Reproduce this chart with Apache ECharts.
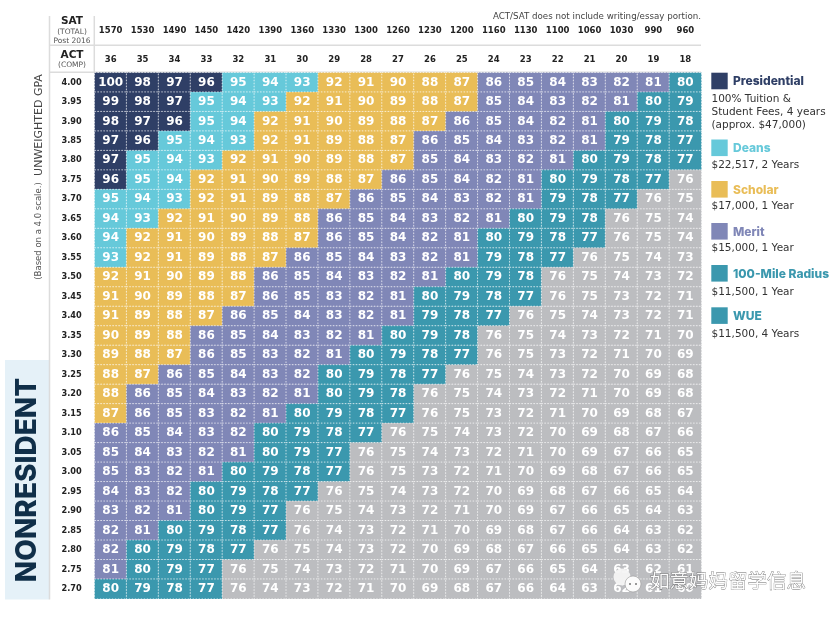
<!DOCTYPE html>
<html>
<head>
<meta charset="utf-8">
<style>html,body{margin:0;padding:0;background:#fff}#chart{width:836px;height:617px}</style>
<script src="https://cdn.jsdelivr.net/npm/echarts@6/dist/echarts.min.js"></script>
</head>
<body>
<div id="chart"></div>
<script>
const satScores = ['1570','1530','1490','1450','1420','1390','1360','1330','1300','1260','1230','1200','1160','1130','1100','1060','1030','990','960'];
const actScores = ['36','35','34','33','32','31','30','29','28','27','26','25','24','23','22','21','20','19','18'];
const gpaLabels = ['4.00','3.95','3.90','3.85','3.80','3.75','3.70','3.65','3.60','3.55','3.50','3.45','3.40','3.35','3.30','3.25','3.20','3.15','3.10','3.05','3.00','2.95','2.90','2.85','2.80','2.75','2.70'];

// index score per GPA row, one value per ACT column
const gpaRows = [
  [100,98,97,96,95,94,93,92,91,90,88,87,86,85,84,83,82,81,80],
  [99,98,97,95,94,93,92,91,90,89,88,87,85,84,83,82,81,80,79],
  [98,97,96,95,94,92,91,90,89,88,87,86,85,84,82,81,80,79,78],
  [97,96,95,94,93,92,91,89,88,87,86,85,84,83,82,81,79,78,77],
  [97,95,94,93,92,91,90,89,88,87,85,84,83,82,81,80,79,78,77],
  [96,95,94,92,91,90,89,88,87,86,85,84,82,81,80,79,78,77,76],
  [95,94,93,92,91,89,88,87,86,85,84,83,82,81,79,78,77,76,75],
  [94,93,92,91,90,89,88,86,85,84,83,82,81,80,79,78,76,75,74],
  [94,92,91,90,89,88,87,86,85,84,82,81,80,79,78,77,76,75,74],
  [93,92,91,89,88,87,86,85,84,83,82,81,79,78,77,76,75,74,73],
  [92,91,90,89,88,86,85,84,83,82,81,80,79,78,76,75,74,73,72],
  [91,90,89,88,87,86,85,83,82,81,80,79,78,77,76,75,73,72,71],
  [91,89,88,87,86,85,84,83,82,81,79,78,77,76,75,74,73,72,71],
  [90,89,88,86,85,84,83,82,81,80,79,78,76,75,74,73,72,71,70],
  [89,88,87,86,85,83,82,81,80,79,78,77,76,75,73,72,71,70,69],
  [88,87,86,85,84,83,82,80,79,78,77,76,75,74,73,72,70,69,68],
  [88,86,85,84,83,82,81,80,79,78,76,75,74,73,72,71,70,69,68],
  [87,86,85,83,82,81,80,79,78,77,76,75,73,72,71,70,69,68,67],
  [86,85,84,83,82,80,79,78,77,76,75,74,73,72,70,69,68,67,66],
  [85,84,83,82,81,80,79,77,76,75,74,73,72,71,70,69,67,66,65],
  [85,83,82,81,80,79,78,77,76,75,73,72,71,70,69,68,67,66,65],
  [84,83,82,80,79,78,77,76,75,74,73,72,70,69,68,67,66,65,64],
  [83,82,81,80,79,77,76,75,74,73,72,71,70,69,67,66,65,64,63],
  [82,81,80,79,78,77,76,74,73,72,71,70,69,68,67,66,64,63,62],
  [82,80,79,78,77,76,75,74,73,72,70,69,68,67,66,65,64,63,62],
  [81,80,79,77,76,75,74,73,72,71,70,69,67,66,65,64,63,62,61],
  [80,79,78,77,76,74,73,72,71,70,69,68,67,66,64,63,62,61,60]
];

const tierNames = ['Presidential','Deans','Scholar','Merit','100-Mile Radius','WUE'];
const tierNotes = [
  ['100% Tuition &','Student Fees, 4 years','(approx. $47,000)'],
  ['$22,517, 2 Years'],
  ['$17,000, 1 Year'],
  ['$15,000, 1 Year'],
  ['$11,500, 1 Year'],
  ['$11,500, 4 Years']
];
const tierColors = ['#2f3f66','#66c9da','#e9bd57','#8087b7','#3b98ae','#3b98ae'];
const noAwardColor = '#bcbdc0';

const FONT = '"DejaVu Sans", sans-serif';
const GREY = '#dcdcdc';

const cells = [];
gpaRows.forEach((row, r) => row.forEach((v, c) => cells.push([c, r, v])));

const gridLeft = 94.7, gridTop = 72.7, gridW = 606.6, gridH = 526;

const text = (x, y, str, style) => ({
  type: 'text', x, y, silent: true,
  style: Object.assign({ text: str, font: '11px ' + FONT, fill: '#333', textAlign: 'left', textVerticalAlign: 'middle' }, style)
});
const rule = (x1, y1, x2, y2) => ({
  type: 'line', silent: true, shape: { x1, y1, x2, y2 }, style: { stroke: GREY, lineWidth: 1.5 }
});

const legendTops = [72.7, 139.5, 181, 223, 265, 307.3];
const noteOffsets = [27, 25.5, 25.5, 25.5, 27, 26.5];
const legendItems = [];
tierNames.forEach((name, i) => {
  const top = legendTops[i];
  legendItems.push({ type: 'rect', silent: true, shape: { x: 711.3, y: top, width: 16.4, height: 16.6 }, style: { fill: tierColors[i] } });
  legendItems.push(text(733, top + 9, name, { font: '800 12px Inter', fill: i === 0 ? '#2f3f66' : tierColors[i] }));
  tierNotes[i].forEach((line, j) => {
    legendItems.push(text(711.5, top + noteOffsets[i] + j * 12.8, line, { font: '10.5px ' + FONT, fill: '#333' }));
  });
});

const chart = echarts.init(document.getElementById('chart'), null, { renderer: 'canvas' });
chart.setOption({
  animation: false,
  backgroundColor: '#fff',
  grid: { left: gridLeft, top: gridTop, width: gridW, height: gridH, containLabel: false },
  xAxis: [
    {
      type: 'category', position: 'top', data: actScores,
      axisLine: { show: false }, axisTick: { show: false }, splitLine: { show: false },
      axisLabel: { margin: 8, interval: 0, fontSize: 8.5, fontWeight: 'bold', color: '#222', fontFamily: FONT }
    },
    {
      type: 'category', position: 'top', data: satScores,
      axisLine: { show: false }, axisTick: { show: false }, splitLine: { show: false },
      axisLabel: { margin: 37, interval: 0, fontSize: 8.5, fontWeight: 'bold', color: '#222', fontFamily: FONT }
    }
  ],
  yAxis: {
    type: 'category', inverse: true, data: gpaLabels,
    axisLine: { show: false }, axisTick: { show: false }, splitLine: { show: false },
    axisLabel: { margin: 13, interval: 0, fontSize: 8.2, fontWeight: 'bold', color: '#222', fontFamily: FONT }
  },
  visualMap: {
    show: false, type: 'piecewise', dimension: 2, seriesIndex: 0,
    pieces: [
      { gte: 96, color: tierColors[0] },
      { gte: 93, lte: 95, color: tierColors[1] },
      { gte: 87, lte: 92, color: tierColors[2] },
      { gte: 81, lte: 86, color: tierColors[3] },
      { gte: 77, lte: 80, color: tierColors[4] },
      { lte: 76, color: noAwardColor }
    ]
  },
  series: [{
    type: 'heatmap', data: cells, xAxisIndex: 0, yAxisIndex: 0,
    itemStyle: { borderColor: 'rgba(255,255,255,0.7)', borderWidth: 1, borderType: [1.5, 1.5] },
    emphasis: { disabled: true },
    label: { show: true, color: '#fff', fontSize: 12, fontWeight: 'bold', fontFamily: FONT, formatter: p => p.value[2] }
  }],
  graphic: [
    { type: 'rect', silent: true, shape: { x: 5, y: 360, width: 44, height: 239.5 }, style: { fill: '#e5f1f8' } },
    rule(49.5, 16, 49.5, 599.5),
    rule(94.3, 16, 94.3, 72.5),
    rule(49.5, 45.3, 701, 45.3),
    rule(49.5, 72.3, 701, 72.3),
    text(72, 21, 'SAT', { font: 'bold 10.5px ' + FONT, fill: '#222', textAlign: 'center' }),
    text(72, 32, '(TOTAL)', { font: '7.5px ' + FONT, fill: '#555', textAlign: 'center' }),
    text(72, 41, 'Post 2016', { font: '7.5px ' + FONT, fill: '#555', textAlign: 'center' }),
    text(72, 55, 'ACT', { font: 'bold 10.5px ' + FONT, fill: '#222', textAlign: 'center' }),
    text(72, 65, '(COMP)', { font: '7.5px ' + FONT, fill: '#555', textAlign: 'center' }),
    text(701, 16.5, 'ACT/SAT does not include writing/essay portion.', { font: '8.7px ' + FONT, fill: '#444', textAlign: 'right' }),
    Object.assign(text(0, 0, 'UNWEIGHTED GPA', { font: '11px ' + FONT, fill: '#444', textAlign: 'center' }), { x: 39, y: 125, rotation: Math.PI / 2 }),
    Object.assign(text(0, 0, '(Based on a 4.0 scale.)', { font: '8.5px ' + FONT, fill: '#555', textAlign: 'center' }), { x: 39, y: 231, rotation: Math.PI / 2 }),
    Object.assign(text(0, 0, 'NONRESIDENT', { font: '800 28px Inter', fill: '#102f49', textAlign: 'center' }), { x: 27.5, y: 480, rotation: Math.PI / 2 }),
    ...legendItems,
    { type: 'circle', z: 20, silent: true, shape: { cx: 622, cy: 577, r: 8.5 }, style: { fill: '#f4f4f4', opacity: 0.95 } },
    { type: 'circle', z: 21, silent: true, shape: { cx: 633, cy: 584, r: 8 }, style: { fill: '#fbfbfb', stroke: '#999', lineWidth: 0.6 } },
    { type: 'circle', z: 22, silent: true, shape: { cx: 630, cy: 584, r: 1 }, style: { fill: '#777' } },
    { type: 'circle', z: 22, silent: true, shape: { cx: 636, cy: 584, r: 1 }, style: { fill: '#777' } },
    Object.assign(text(650, 581, '如意妈妈留学信息', { font: '19.5px "Noto Sans CJK SC"', fill: 'rgba(255,255,255,0.95)', stroke: 'rgba(60,60,60,0.75)', lineWidth: 0.7 }), { z: 20 })
  ]
});
</script>
</body>
</html>
